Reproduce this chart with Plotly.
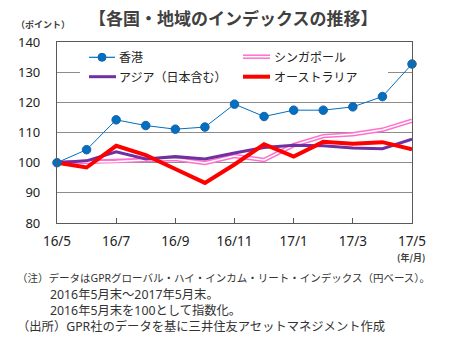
import plotly.graph_objects as go

months = ["16/5", "16/6", "16/7", "16/8", "16/9", "16/10", "16/11", "16/12",
          "17/1", "17/2", "17/3", "17/4", "17/5"]
hong_kong = [100, 104.3, 114.2, 112.3, 111.1, 111.8, 119.4, 115.3, 117.4, 117.4, 118.5, 121.9, 132.7]
singapore = [100, 100.2, 100.4, 100.9, 101.2, 99.9, 102.2, 100.9, 105.8, 108.8, 109.4, 110.9, 113.9]
asia = [100, 100.6, 103.6, 101.2, 102.0, 101.2, 103.2, 105.0, 105.8, 105.6, 104.9, 104.6, 107.8]
australia = [100, 98.4, 105.6, 102.5, 97.9, 93.3, 99.4, 106.1, 102.0, 106.9, 106.3, 106.8, 104.4]

tick_idx = [0, 2, 4, 6, 8, 10, 12]
tick_text = [months[i] for i in tick_idx]
y_ticks = [80, 90, 100, 110, 120, 130, 140]

title_text = "【各国・地域のインデックスの推移】"
unit_y = "（ポイント）"
unit_x = "(年/月)"
legend_names = ["香港", "シンガポール", "アジア（日本含む）", "オーストラリア"]
notes = [
    "（注）データはGPRグローバル・ハイ・インカム・リート・インデックス（円ベース）。",
    "2016年5月末～2017年5月末。",
    "2016年5月末を100として指数化。",
    "（出所）GPR社のデータを基に三井住友アセットマネジメント作成",
]

W, H = 456, 340
L, R, T, B = 57, 412, 42, 223
FONT = "Noto Sans, Noto Sans CJK JP"
NUM = "Noto Sans"
JP = "Noto Sans CJK JP"

BLUE = "#0070C0"
PINK = "#FF70CC"
PURPLE = "#7030A0"
RED = "#FF0000"
FRAME = "#595959"

x = list(range(len(months)))

def px(xp):
    return (xp - L) / (R - L)

def py(yp):
    return (B - yp) / (B - T)

fig = go.Figure()
fig.add_trace(go.Scatter(x=x, y=singapore, mode="lines", line=dict(color=PINK, width=4.5), showlegend=False))
fig.add_trace(go.Scatter(x=x, y=singapore, mode="lines", line=dict(color="white", width=1.5), showlegend=False))
fig.add_trace(go.Scatter(x=x, y=asia, mode="lines", line=dict(color=PURPLE, width=3), showlegend=False))
fig.add_trace(go.Scatter(x=x, y=australia, mode="lines", line=dict(color=RED, width=4), showlegend=False))
fig.add_trace(go.Scatter(x=x, y=hong_kong, mode="lines+markers", line=dict(color=BLUE, width=1),
                         marker=dict(color=BLUE, size=8.5, line=dict(color="#1F5FA8", width=1)),
                         cliponaxis=False, showlegend=False))

shapes = []
annotations = []

# legend box
shapes.append(dict(type="rect", xref="paper", yref="paper", x0=px(80), x1=px(388), y0=py(88), y1=py(45),
                   fillcolor="white", line=dict(width=0), layer="above"))
# legend samples
shapes.append(dict(type="line", xref="paper", yref="paper", x0=px(89), x1=px(115), y0=py(57.3), y1=py(57.3),
                   line=dict(color=BLUE, width=1.2), layer="above"))
shapes.append(dict(type="circle", xref="paper", yref="paper", x0=px(98), x1=px(106), y0=py(61.3), y1=py(53.3),
                   fillcolor=BLUE, line=dict(color="#1F5FA8", width=1), layer="above"))
shapes.append(dict(type="line", xref="paper", yref="paper", x0=px(89), x1=px(116), y0=py(76.7), y1=py(76.7),
                   line=dict(color=PURPLE, width=3), layer="above"))
shapes.append(dict(type="line", xref="paper", yref="paper", x0=px(243), x1=px(270), y0=py(56.7), y1=py(56.7),
                   line=dict(color=PINK, width=4.5), layer="above"))
shapes.append(dict(type="line", xref="paper", yref="paper", x0=px(243), x1=px(270), y0=py(56.7), y1=py(56.7),
                   line=dict(color="white", width=1.5), layer="above"))
shapes.append(dict(type="line", xref="paper", yref="paper", x0=px(243), x1=px(270), y0=py(76.7), y1=py(76.7),
                   line=dict(color=RED, width=4), layer="above"))

leg_pos = [(117, 57), (272, 57), (117, 77), (272, 77)]
for name, (lx, ly) in zip(legend_names, leg_pos):
    annotations.append(dict(text=name, xref="paper", yref="paper", x=px(lx), y=py(ly), xanchor="left",
                            yanchor="middle", showarrow=False, font=dict(family=FONT, size=12, color="#222")))

# title
annotations.append(dict(text=title_text, xref="paper", yref="paper", x=px(233), y=py(18), xanchor="center",
                        yanchor="middle", showarrow=False,
                        font=dict(family=JP, size=17, color="#404040", weight="bold")))
annotations.append(dict(text=unit_y, xref="paper", yref="paper", x=px(43), y=py(25), xanchor="center",
                        yanchor="middle", showarrow=False,
                        font=dict(family=JP, size=9, color="#404040", weight="bold")))
annotations.append(dict(text=unit_x, xref="paper", yref="paper", x=px(411), y=py(257), xanchor="center",
                        yanchor="middle", showarrow=False,
                        font=dict(family=JP, size=9, color="#404040", weight="bold")))

note_specs = [(15, 278, 10.5), (48, 294, 12.3), (48, 310, 12.3), (15, 326, 12.3)]
for txt, (nx, ny, fs) in zip(notes, note_specs):
    annotations.append(dict(text=txt, xref="paper", yref="paper", x=px(nx), y=py(ny), xanchor="left",
                            yanchor="middle", showarrow=False, font=dict(family=FONT, size=fs, color="#333")))

fig.update_layout(
    width=W, height=H,
    margin=dict(l=L, r=W - R, t=T, b=H - B, pad=0),
    paper_bgcolor="white", plot_bgcolor="white",
    showlegend=False,
    shapes=shapes, annotations=annotations,
    font=dict(family=FONT, size=12, color="#222"),
)
fig.update_xaxes(range=[0, 12], tickvals=tick_idx, ticktext=tick_text, showgrid=False, zeroline=False,
                 showline=True, mirror=True, linecolor=FRAME, linewidth=1.2,
                 ticks="inside", ticklen=5, tickcolor=FRAME, tickwidth=1,
                 tickfont=dict(family=NUM, size=13.5, color="#222"), ticklabelstandoff=6)
fig.update_yaxes(range=[80, 140], tickvals=y_ticks, showgrid=True, gridcolor="#8C8C8C", gridwidth=1,
                 zeroline=False, showline=True, mirror=True, linecolor=FRAME, linewidth=1.2,
                 ticks="", tickfont=dict(family=NUM, size=13, color="#222"), ticklabelstandoff=13)

fig.write_html("out.html")
